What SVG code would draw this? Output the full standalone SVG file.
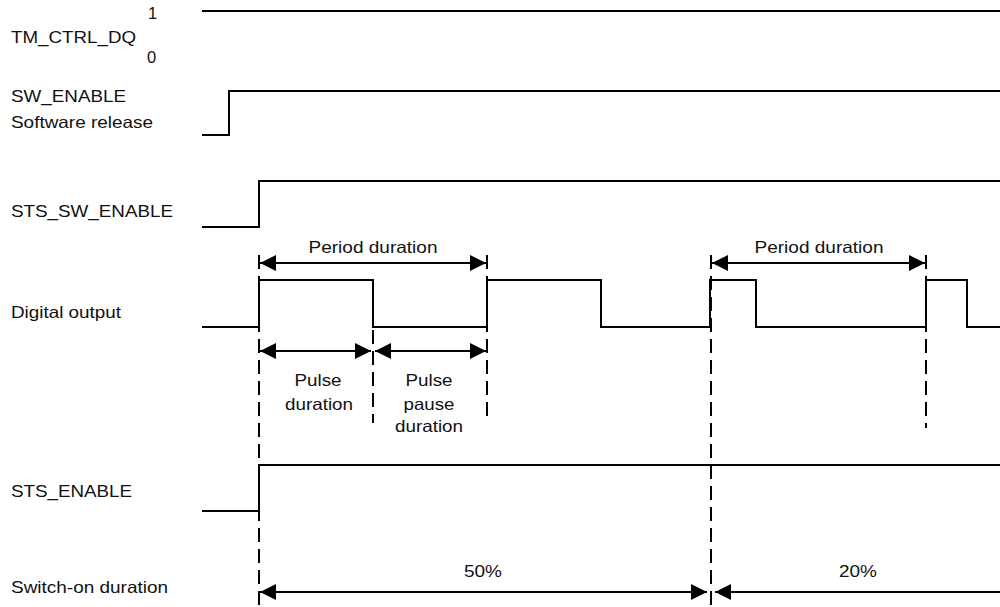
<svg xmlns="http://www.w3.org/2000/svg" width="1000" height="607" viewBox="0 0 1000 607">
<style>
text{font-family:"Liberation Sans",Arial,sans-serif;font-size:16.5px;fill:#111}
.c{text-anchor:middle}
.sig{fill:none;stroke:#000;stroke-width:2}
.dash{fill:none;stroke:#000;stroke-width:2;stroke-dasharray:14 7}
.dim{fill:none;stroke:#000;stroke-width:2;marker-start:url(#ah);marker-end:url(#ah)}
</style>
<defs>
<marker id="ah" markerUnits="userSpaceOnUse" markerWidth="17" markerHeight="16" refX="16" refY="8" orient="auto-start-reverse">
<path d="M0,0 L16,8 L0,16 Z" fill="#000"/>
</marker>
</defs>
<rect width="1000" height="607" fill="#fff"/>
<g id="labels">
<g id="tm_ctrl_dq"><text x="148" y="19">1</text><text x="11" y="43" textLength="125" lengthAdjust="spacingAndGlyphs">TM_CTRL_DQ</text><text x="147" y="63">0</text></g>
<g id="sw_enable"><text x="11" y="102" textLength="115" lengthAdjust="spacingAndGlyphs">SW_ENABLE</text><text x="11" y="128" textLength="142" lengthAdjust="spacingAndGlyphs">Software release</text></g>
<g id="sts_sw_enable"><text x="11" y="217" textLength="162" lengthAdjust="spacingAndGlyphs">STS_SW_ENABLE</text></g>
<g id="digital_output"><text x="11" y="318" textLength="110" lengthAdjust="spacingAndGlyphs">Digital output</text></g>
<g id="sts_enable"><text x="11" y="497" textLength="121" lengthAdjust="spacingAndGlyphs">STS_ENABLE</text></g>
<g id="switch_on_duration"><text x="11" y="593" textLength="157" lengthAdjust="spacingAndGlyphs">Switch-on duration</text></g>
</g>
<g id="connectors">
<path class="sig" d="M202,11 H1000"/>
<path class="sig" d="M202,135 H229 V91 H1000"/>
<path class="sig" d="M202,227 H259 V181 H1000"/>
<path class="sig" d="M202,327 H259 V280 H373 V327 H487 V280 H601 V327 H710 V280 H756 V327 H926 V280 H967 V327 H1000"/>
<path class="sig" d="M202,511 H259 V465 H1000"/>
<path class="dash" d="M259,255 V607"/>
<path class="dash" d="M373,330 V423"/>
<path class="dash" d="M487,255 V420"/>
<path class="dash" d="M711,255 V607"/>
<path class="dash" d="M926,255 V428"/>
<path class="dim" d="M260,263 H486"/>
<path class="dim" d="M712,263 H925"/>
<path class="dim" d="M260,351 H371"/>
<path class="dim" d="M375,351 H486"/>
<path class="dim" d="M260,592 H707"/>
<path class="sig" d="M715,592 H1000" style="marker-start:url(#ah)"/>
</g>
<g id="dimension_labels">
<g id="period1"><text class="c" x="373" y="253" textLength="129" lengthAdjust="spacingAndGlyphs">Period duration</text></g>
<g id="period2"><text class="c" x="819" y="253" textLength="129" lengthAdjust="spacingAndGlyphs">Period duration</text></g>
<g id="pulse_duration"><text class="c" x="318" y="386" textLength="47" lengthAdjust="spacingAndGlyphs">Pulse</text><text class="c" x="319" y="410" textLength="68" lengthAdjust="spacingAndGlyphs">duration</text></g>
<g id="pulse_pause_duration"><text class="c" x="429" y="386" textLength="47" lengthAdjust="spacingAndGlyphs">Pulse</text><text class="c" x="429" y="410" textLength="51" lengthAdjust="spacingAndGlyphs">pause</text><text class="c" x="429" y="432" textLength="68" lengthAdjust="spacingAndGlyphs">duration</text></g>
<g id="duty50"><text class="c" x="483" y="577" textLength="38" lengthAdjust="spacingAndGlyphs">50%</text></g>
<g id="duty20"><text class="c" x="858" y="577" textLength="38" lengthAdjust="spacingAndGlyphs">20%</text></g>
</g>
</svg>
